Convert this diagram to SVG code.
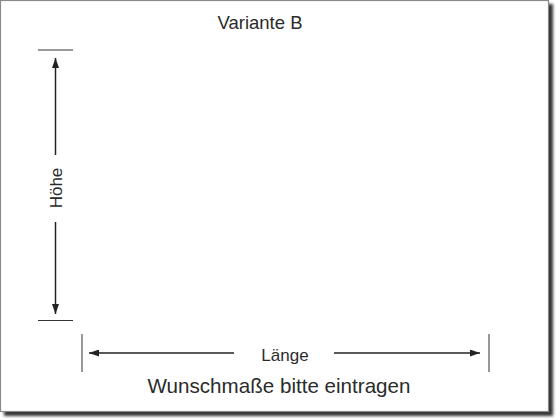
<svg xmlns="http://www.w3.org/2000/svg" width="560" height="420" viewBox="0 0 560 420">
<style>
.t{font-family:"Liberation Sans",Arial,sans-serif;fill:#2b2b2b}
.dim{stroke:#222;stroke-width:1.5;fill:none}
.tick{stroke:#333;stroke-width:1;fill:none}
</style>
<defs>
<filter id="sh" x="-5%" y="-5%" width="110%" height="110%"><feGaussianBlur stdDeviation="1.4"/></filter>
<marker id="ah" viewBox="0 0 10 7" refX="10" refY="3.5" markerWidth="10" markerHeight="7" markerUnits="userSpaceOnUse" orient="auto"><path d="M0,0 L10,3.5 L0,7 Z" fill="#222"/></marker>
</defs>
<rect width="560" height="420" fill="#fff"/>
<g id="frame">
<rect x="4" y="4" width="549" height="412" fill="#333" filter="url(#sh)"/>
<rect x="0.5" y="0.5" width="548" height="411" fill="#fff" stroke="#8a8a8a" stroke-width="1.2"/>
</g>
<g id="title"><text class="t" x="260" y="29" font-size="18.5" text-anchor="middle">Variante B</text></g>
<g id="connectors">
<line class="tick" x1="38" y1="50" x2="73" y2="50"/>
<line class="tick" x1="38" y1="320.5" x2="73" y2="320.5"/>
<line class="dim" x1="55.5" y1="155" x2="55.5" y2="58" marker-end="url(#ah)"/>
<line class="dim" x1="55.5" y1="222" x2="55.5" y2="314" marker-end="url(#ah)"/>
<line class="tick" x1="82" y1="334" x2="82" y2="372"/>
<line class="tick" x1="489" y1="334" x2="489" y2="372"/>
<line class="dim" x1="234" y1="353" x2="89" y2="353" marker-end="url(#ah)"/>
<line class="dim" x1="334" y1="353" x2="480" y2="353" marker-end="url(#ah)"/>
</g>
<g id="hoehe"><text class="t" x="0" y="0" font-size="17" text-anchor="middle" transform="translate(62,188) rotate(-90)">Höhe</text></g>
<g id="laenge"><text class="t" x="285" y="361" font-size="17" text-anchor="middle">Länge</text></g>
<g id="hinweis"><text class="t" x="279" y="393" font-size="20.6" text-anchor="middle">Wunschmaße bitte eintragen</text></g>
</svg>
